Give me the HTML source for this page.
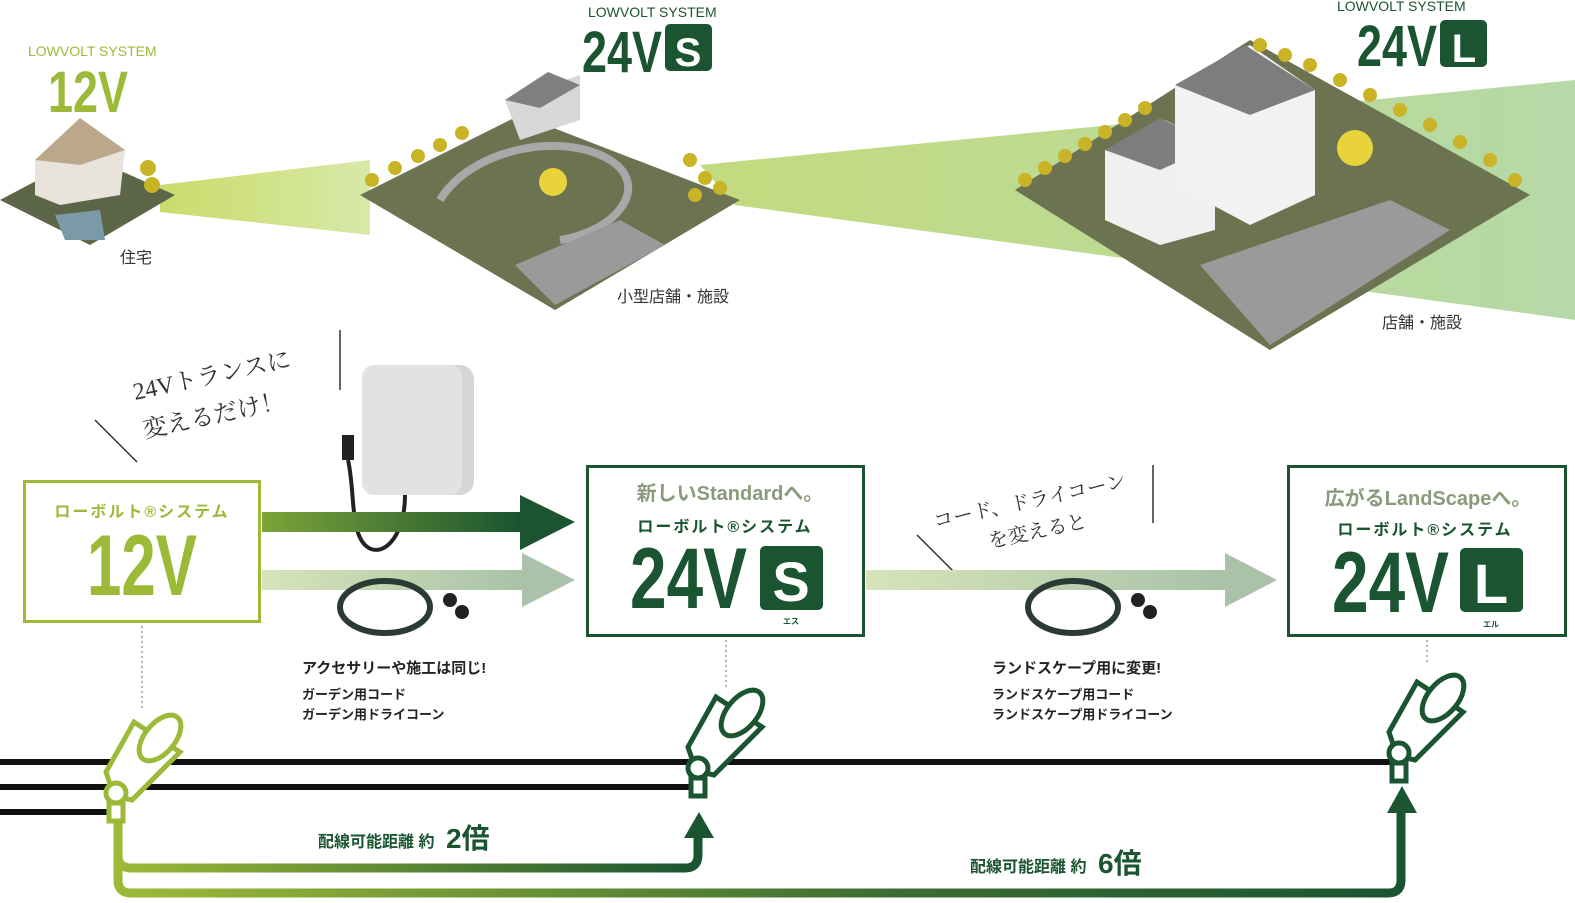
<!DOCTYPE html>
<html><head><meta charset="utf-8"><style>
body{margin:0;background:#fff;}
svg{display:block;font-family:"Liberation Sans","Noto Sans CJK JP",sans-serif;}
.jp{font-family:"Liberation Sans","Noto Sans CJK JP",sans-serif;font-weight:bold;}
.n{font-weight:normal;}
.cond{font-family:"Liberation Sans Narrow","Liberation Sans",sans-serif;}
</style></head><body>
<svg width="1575" height="903" viewBox="0 0 1575 903" xmlns="http://www.w3.org/2000/svg">
<defs>
<linearGradient id="b1" x1="0" x2="1"><stop offset="0" stop-color="#c9dc6a"/><stop offset="1" stop-color="#d9e8a8"/></linearGradient>
<linearGradient id="b2" x1="0" x2="1"><stop offset="0" stop-color="#c3db7e"/><stop offset="1" stop-color="#b5d9a8"/></linearGradient>
<linearGradient id="ga" x1="0" x2="1"><stop offset="0" stop-color="#7da43a"/><stop offset="1" stop-color="#1a5430"/></linearGradient>
<linearGradient id="gp" x1="0" x2="1"><stop offset="0" stop-color="#d6e4b8"/><stop offset="1" stop-color="#a9c2a8"/></linearGradient>
<linearGradient id="gl1" x1="0" x2="1"><stop offset="0" stop-color="#9cba38"/><stop offset="1" stop-color="#1a5430"/></linearGradient>
<linearGradient id="gl2" x1="0" x2="1"><stop offset="0" stop-color="#9cba38"/><stop offset="0.6" stop-color="#3d6d33"/><stop offset="1" stop-color="#1a5430"/></linearGradient>
</defs>
<!-- beams -->
<polygon points="160,185 160,212 370,235 370,160" fill="url(#b1)"/>
<polygon points="700,165 735,205 1575,320 1575,80" fill="url(#b2)"/>
<!-- house ground -->
<polygon points="0,200 85,155 175,195 90,245" fill="#5d6547"/>
<polygon points="35,160 85,125 125,150 120,195 60,205 35,195" fill="#e8e4dc"/>
<polygon points="35,160 80,118 125,150 80,165" fill="#bba88a"/>
<polygon points="55,215 100,210 105,240 65,240" fill="#7a9aa8"/>
<g fill="#c9b428"><circle cx="148" cy="168" r="8"/><circle cx="152" cy="185" r="8"/></g>
<!-- park ground -->
<polygon points="360,195 520,115 740,200 555,310" fill="#6b7350"/>
<path d="M440,200 C470,150 560,130 610,160 C650,185 620,230 560,240" stroke="#a8a8a8" stroke-width="8" fill="none"/>
<polygon points="515,265 620,220 665,245 555,305" fill="#9a9a9a"/>
<polygon points="505,100 580,75 580,120 520,140" fill="#d8d8d8"/>
<polygon points="505,100 548,72 580,85 540,108" fill="#808080"/>
<circle cx="553" cy="182" r="14" fill="#e8d43a"/>
<g fill="#c9b428"><circle cx="372" cy="180" r="7"/><circle cx="395" cy="168" r="7"/><circle cx="418" cy="156" r="7"/><circle cx="440" cy="145" r="7"/><circle cx="462" cy="133" r="7"/><circle cx="690" cy="160" r="7"/><circle cx="705" cy="178" r="7"/><circle cx="720" cy="188" r="7"/><circle cx="695" cy="195" r="7"/></g>
<!-- large ground -->
<polygon points="1015,190 1250,40 1530,195 1270,350" fill="#6b7350"/>
<polygon points="1200,265 1390,200 1450,230 1270,345" fill="#9a9a9a"/>
<polygon points="1105,150 1165,120 1215,145 1215,230 1160,245 1105,220" fill="#f0f0f0"/>
<polygon points="1105,150 1160,118 1215,145 1160,170" fill="#7d7d7d"/>
<polygon points="1175,85 1250,45 1315,90 1315,195 1250,225 1175,185" fill="#f2f2f2"/>
<polygon points="1175,85 1245,45 1315,90 1250,115" fill="#7d7d7d"/>
<circle cx="1355" cy="148" r="18" fill="#e8d43a"/>
<g fill="#c9b428"><circle cx="1025" cy="180" r="7"/><circle cx="1045" cy="168" r="7"/><circle cx="1065" cy="156" r="7"/><circle cx="1085" cy="144" r="7"/><circle cx="1105" cy="132" r="7"/><circle cx="1125" cy="120" r="7"/><circle cx="1145" cy="108" r="7"/><circle cx="1260" cy="45" r="7"/><circle cx="1285" cy="55" r="7"/><circle cx="1310" cy="65" r="7"/><circle cx="1340" cy="80" r="7"/><circle cx="1370" cy="95" r="7"/><circle cx="1400" cy="110" r="7"/><circle cx="1430" cy="125" r="7"/><circle cx="1460" cy="142" r="7"/><circle cx="1490" cy="160" r="7"/><circle cx="1515" cy="180" r="7"/></g>
<!-- system titles -->
<text x="28" y="56" font-size="14" fill="#9cba38" class="cond">LOWVOLT SYSTEM</text>
<text x="48" y="112" font-size="58" fill="#9cba38" class="cond" font-weight="bold" textLength="80" lengthAdjust="spacingAndGlyphs">12V</text>
<text x="588" y="17" font-size="14" fill="#1a5430" class="cond">LOWVOLT SYSTEM</text>
<text x="582" y="72" font-size="58" fill="#1a5430" class="cond" font-weight="bold" textLength="80" lengthAdjust="spacingAndGlyphs">24V</text>
<rect x="665" y="24" width="47" height="47" rx="5" fill="#1a5430"/><text x="688" y="66" font-size="40" fill="#fff" text-anchor="middle" font-weight="bold">S</text>
<text x="1337" y="11" font-size="14" fill="#1a5430" class="cond">LOWVOLT SYSTEM</text>
<text x="1357" y="66" font-size="58" fill="#1a5430" class="cond" font-weight="bold" textLength="80" lengthAdjust="spacingAndGlyphs">24V</text>
<rect x="1440" y="20" width="47" height="47" rx="5" fill="#1a5430"/><text x="1464" y="62" font-size="40" fill="#fff" text-anchor="middle" font-weight="bold">L</text>
<text x="120" y="263" font-size="16" fill="#333" class="jp n">住宅</text>
<text x="617" y="302" font-size="16" fill="#333" class="jp n">小型店舗・施設</text>
<text x="1382" y="328" font-size="16" fill="#333" class="jp n">店舗・施設</text>
<!-- handwritten notes -->
<g font-family="'Liberation Serif','Noto Serif CJK SC',serif" font-size="24" fill="#333">
<text x="135" y="400" transform="rotate(-12 135 400)">24Vトランスに</text>
<text x="145" y="438" transform="rotate(-12 145 438)">変えるだけ！</text>
<text x="935" y="528" font-size="20" transform="rotate(-12 935 528)">コード、ドライコーン</text>
<text x="990" y="548" font-size="20" transform="rotate(-12 990 548)">を変えると</text>
</g>
<line x1="95" y1="420" x2="137" y2="462" stroke="#333" stroke-width="1.5"/>
<line x1="340" y1="330" x2="340" y2="390" stroke="#333" stroke-width="1.5"/>
<line x1="917" y1="535" x2="958" y2="576" stroke="#333" stroke-width="1.5"/>
<line x1="1153" y1="465" x2="1153" y2="523" stroke="#333" stroke-width="1.5"/>
<!-- transformer -->
<rect x="362" y="365" width="112" height="130" rx="14" fill="#d6d6d4"/>
<rect x="362" y="365" width="100" height="130" rx="12" fill="#e2e2e0"/>
<path d="M405,495 C405,540 380,560 365,545 C350,530 355,490 348,460" stroke="#222" stroke-width="4" fill="none"/>
<rect x="342" y="435" width="12" height="25" fill="#222"/>
<!-- arrows -->
<rect x="262" y="512" width="260" height="20" fill="url(#ga)"/>
<polygon points="520,495 575,522 520,550" fill="#1a5430"/>
<rect x="262" y="570" width="262" height="20" fill="url(#gp)"/>
<polygon points="522,553 575,580 522,607" fill="#a9c2a8"/>
<rect x="866" y="570" width="362" height="20" fill="url(#gp)"/>
<polygon points="1225,553 1277,580 1225,607" fill="#a9c2a8"/>
<!-- cords -->
<ellipse cx="385" cy="607" rx="45" ry="26" fill="none" stroke="#2a3a35" stroke-width="6"/>
<ellipse cx="1073" cy="607" rx="45" ry="26" fill="none" stroke="#2a3a35" stroke-width="6"/>
<g fill="#222"><circle cx="450" cy="600" r="7"/><circle cx="462" cy="612" r="7"/><circle cx="1138" cy="600" r="7"/><circle cx="1150" cy="612" r="7"/></g>
<!-- boxes -->
<rect x="24.5" y="481.5" width="235" height="140" fill="#fff" stroke="#9cba38" stroke-width="3"/>
<text x="142" y="517" font-size="16" fill="#9cba38" text-anchor="middle" class="jp" letter-spacing="2">ローボルト®システム</text>
<text x="142" y="595" font-size="86" fill="#9cba38" text-anchor="middle" class="cond" font-weight="bold" textLength="110" lengthAdjust="spacingAndGlyphs">12V</text>
<rect x="587.5" y="466.5" width="276" height="169" fill="#fff" stroke="#1a5430" stroke-width="3"/>
<text x="730" y="500" font-size="20" fill="#8a9a7a" text-anchor="middle" class="jp">新しいStandardへ。</text>
<text x="725" y="532" font-size="16" fill="#1a5430" text-anchor="middle" class="jp" letter-spacing="2">ローボルト®システム</text>
<text x="630" y="608" font-size="86" fill="#1a5430" class="cond" font-weight="bold" textLength="117" lengthAdjust="spacingAndGlyphs">24V</text>
<rect x="760" y="546" width="63" height="64" rx="5" fill="#1a5430"/><text x="791" y="601" font-size="56" fill="#fff" text-anchor="middle" font-weight="bold">S</text>
<text x="791" y="624" font-size="8" fill="#1a5430" text-anchor="middle" class="jp">エス</text>
<rect x="1288.5" y="466.5" width="277" height="169" fill="#fff" stroke="#1a5430" stroke-width="3"/>
<text x="1428" y="505" font-size="20" fill="#8a9a7a" text-anchor="middle" class="jp">広がるLandScapeへ。</text>
<text x="1425" y="535" font-size="16" fill="#1a5430" text-anchor="middle" class="jp" letter-spacing="2">ローボルト®システム</text>
<text x="1332" y="612" font-size="86" fill="#1a5430" class="cond" font-weight="bold" textLength="117" lengthAdjust="spacingAndGlyphs">24V</text>
<rect x="1460" y="548" width="63" height="64" rx="5" fill="#1a5430"/><text x="1491" y="603" font-size="56" fill="#fff" text-anchor="middle" font-weight="bold">L</text>
<text x="1491" y="627" font-size="8" fill="#1a5430" text-anchor="middle" class="jp">エル</text>
<!-- captions -->
<text x="302" y="673" font-size="15" fill="#222" class="jp">アクセサリーや施工は同じ!</text>
<text x="302" y="699" font-size="13" fill="#222" class="jp">ガーデン用コード</text>
<text x="302" y="719" font-size="13" fill="#222" class="jp">ガーデン用ドライコーン</text>
<text x="992" y="673" font-size="15" fill="#222" class="jp">ランドスケープ用に変更!</text>
<text x="992" y="699" font-size="13" fill="#222" class="jp">ランドスケープ用コード</text>
<text x="992" y="719" font-size="13" fill="#222" class="jp">ランドスケープ用ドライコーン</text>
<!-- dotted -->
<g stroke="#999" stroke-width="1.5" stroke-dasharray="2,3"><line x1="142" y1="626" x2="142" y2="710"/><line x1="726" y1="640" x2="726" y2="688"/><line x1="1427" y1="640" x2="1427" y2="662"/></g>
<!-- black lines -->
<rect x="0" y="759" width="1400" height="6" fill="#111"/>
<rect x="0" y="784" width="700" height="6" fill="#111"/>
<rect x="0" y="809" width="110" height="6" fill="#111"/>
<!-- green paths -->
<path d="M118,815 V855 Q118,868 131,868 H685 Q698,868 698,855 V835" stroke="url(#gl1)" stroke-width="9" fill="none"/>
<polygon points="684,838 699,812 714,838" fill="#1a5430"/>
<path d="M118,850 V880 Q118,893 131,893 H1388 Q1401,893 1401,880 V810" stroke="url(#gl2)" stroke-width="9" fill="none"/>
<polygon points="1387,813 1402,786 1417,813" fill="#1a5430"/>
<text x="318" y="847" font-size="16" fill="#1a5430" class="jp">配線可能距離 約</text>
<text x="446" y="848" font-size="28" fill="#1a5430" class="jp">2倍</text>
<text x="970" y="872" font-size="16" fill="#1a5430" class="jp">配線可能距離 約</text>
<text x="1098" y="873" font-size="28" fill="#1a5430" class="jp">6倍</text>
<!-- lamps -->
<g fill="#fff" stroke-width="5">
<g stroke="#9cba38"><polygon points="106,772 134,722 180,752 132,800 114,796"/><ellipse cx="160" cy="738" rx="15" ry="27" transform="rotate(40 160 738)"/><circle cx="116" cy="793" r="10"/><rect x="109" y="803" width="14" height="18"/></g>
<g stroke="#1a5430"><polygon points="688,747 716,697 762,727 714,775 696,771"/><ellipse cx="742" cy="713" rx="15" ry="27" transform="rotate(40 742 713)"/><circle cx="698" cy="768" r="10"/><rect x="691" y="778" width="14" height="18"/></g>
<g stroke="#1a5430"><polygon points="1389,732 1417,682 1463,712 1415,760 1397,756"/><ellipse cx="1443" cy="698" rx="15" ry="27" transform="rotate(40 1443 698)"/><circle cx="1399" cy="753" r="10"/><rect x="1392" y="763" width="14" height="18"/></g>
</g>
</svg>
</body></html>
